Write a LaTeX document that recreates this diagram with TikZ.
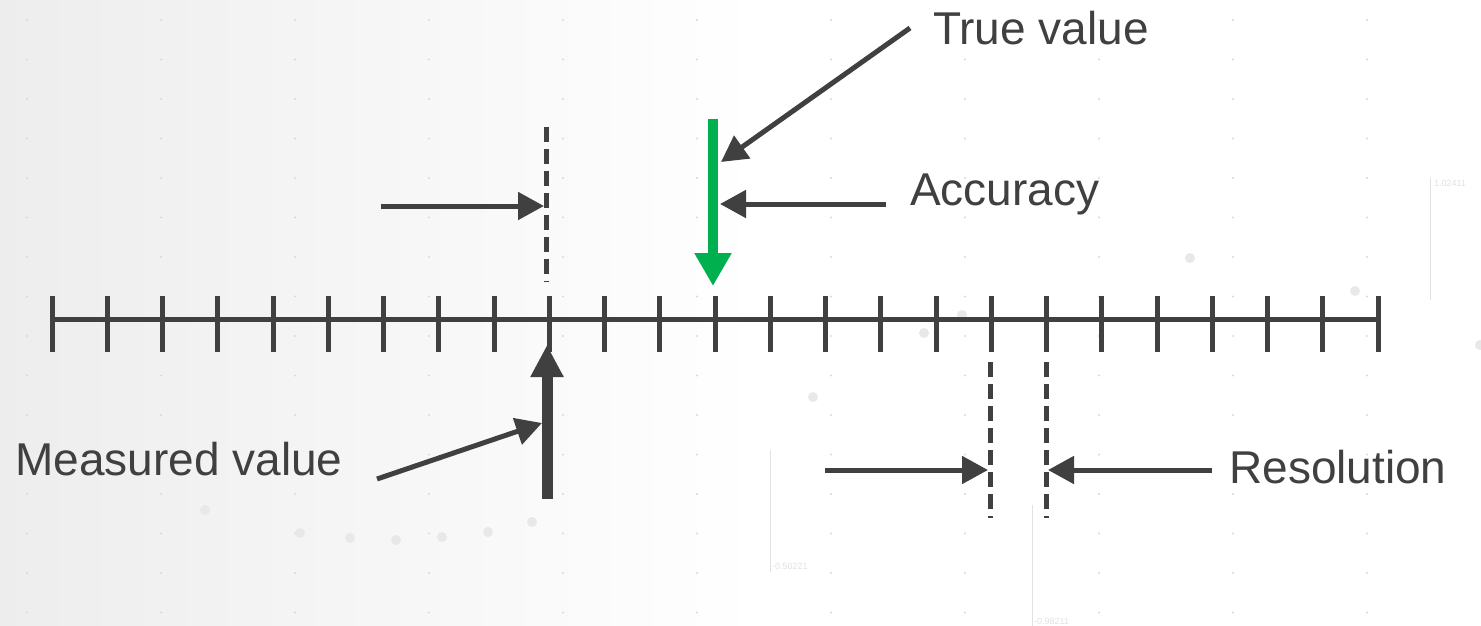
\documentclass[tikz,border=0pt]{standalone}
\usepackage{fontspec}
\setmainfont{Liberation Sans}
\usetikzlibrary{arrows.meta}
\definecolor{ink}{HTML}{404040}
\definecolor{grn}{HTML}{00B04F}
\definecolor{faint}{HTML}{E2E2E2}
\tikzset{
  lbl/.style={anchor=base west,inner sep=0pt,text=ink,font=\fontsize{46}{55}\selectfont},
  tiny/.style={anchor=west,inner sep=0pt,text=faint,font=\fontsize{9}{10}\selectfont},
  ptr/.style={draw=ink,line width=5pt,-{Triangle[length=26pt,width=27pt]}},
  bigptr/.style={draw=ink,line width=11pt,-{Triangle[length=32pt,width=31pt]}},
  greenptr/.style={draw=grn,line width=10pt,-{Triangle[length=33pt,width=35pt]}},
  axisline/.style={draw=ink,line width=5pt},
  tickmark/.style={draw=ink,line width=5pt},
  dashline/.style={draw=ink,line width=5pt,dash pattern=on 15pt off 7pt},
  blob/.style={fill=faint!80,draw=none},
}
\begin{document}
\begin{tikzpicture}[x=1pt,y=-1pt]
\useasboundingbox (0,0) rectangle (1481,626);
% background
\shade[left color=black!7,right color=white,shading angle=90] (0,0) rectangle (760,626);
\fill[white] (760,0) rectangle (1481,626);
\foreach \i in {0,...,10}{
  \foreach \j in {0,...,15}{
    \fill[black!15] ({27+134*\i},{20+39.5*\j}) circle (1.1pt);
  }
}
\foreach \p in {(205,510),(300,533),(350,538),(396,540),(442,537),(488,532),(532,522),(813,397),(924,333),(962,315),(1190,258),(1355,291),(1480,345)}
  \fill[blob] \p circle (5pt);
\draw[faint,line width=1pt] (1430,178) -- (1430,300);
\draw[faint,line width=1pt] (770,450) -- (770,572);
\draw[faint,line width=1pt] (1032,505) -- (1032,626);
\node[tiny] (n1) at (1434,183) {1.02411};
\node[tiny] (n2) at (772,566) {-0.50221};
\node[tiny] (n3) at (1034,621) {-0.98211};
% axis
\coordinate (a0) at (52,319);
\coordinate (a1) at (1381,319);
\draw[axisline] (a0) -- (a1);
\foreach \k in {0,...,24}{
  \coordinate (t\k) at ({52+55.25*\k},319);
  \draw[tickmark] ([yshift=-33pt]t\k) -- ([yshift=23pt]t\k);
}
% labels
\node[lbl] (tv) at (933,45) {True value};
\node[lbl] (acc) at (910,205) {Accuracy};
\node[lbl] (mv) at (15,475) {Measured value};
\node[lbl] (res) at (1229,483) {Resolution};
% true value / accuracy
\coordinate (gtop) at (713,119);
\coordinate (gtip) at (713,286);
\draw[greenptr] (gtop) -- (gtip);
\coordinate (tvs) at (910,28);
\coordinate (tve) at (721,162);
\draw[ptr] (tvs) -- (tve);
\coordinate (acs) at (886,204);
\coordinate (ace) at (720,204);
\draw[ptr] (acs) -- (ace);
% measured value
\coordinate (mtop) at (546,127);
\coordinate (mbot) at (546,282);
\draw[dashline] (mtop) -- (mbot);
\coordinate (ls) at (381,206);
\coordinate (le) at (544,206);
\draw[ptr] (ls) -- (le);
\coordinate (mb) at (547,499);
\coordinate (mt) at (547,345);
\draw[bigptr] (mb) -- (mt);
\coordinate (ms) at (377,479);
\coordinate (me) at (542,423);
\draw[ptr] (ms) -- (me);
% resolution
\coordinate (r1t) at (990,362);
\coordinate (r1b) at (990,518);
\coordinate (r2t) at (1046,362);
\coordinate (r2b) at (1046,518);
\draw[dashline] (r1t) -- (r1b);
\draw[dashline] (r2t) -- (r2b);
\coordinate (rls) at (825,470);
\coordinate (rle) at (988,470);
\draw[ptr] (rls) -- (rle);
\coordinate (rrs) at (1212,470);
\coordinate (rre) at (1048,470);
\draw[ptr] (rrs) -- (rre);
\end{tikzpicture}
\end{document}
